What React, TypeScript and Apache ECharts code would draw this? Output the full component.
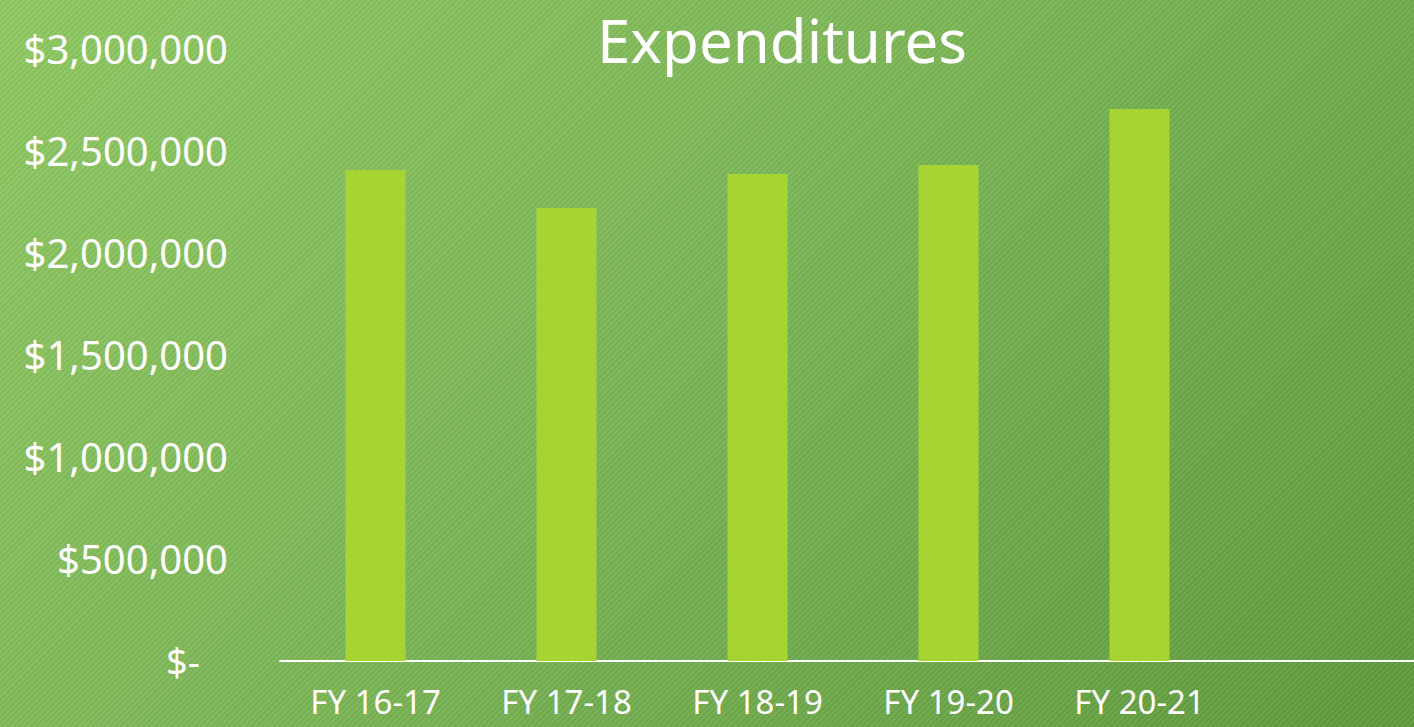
import React, { useEffect, useRef } from "react";
import * as echarts from "echarts";

const categories = ["FY 16-17", "FY 17-18", "FY 18-19", "FY 19-20", "FY 20-21"];
const expenditures = [2403000, 2217000, 2383000, 2427000, 2701000];
const yMin = 0;
const yMax = 3000000;
const yStep = 500000;
const titleText = "Expenditures";

const FONT = "'Noto Sans', 'Open Sans', sans-serif";

export default function App() {
  const ref = useRef<HTMLDivElement>(null);

  useEffect(() => {
    document.body.style.margin = "0";
    if (!ref.current) return;
    const chart = echarts.init(ref.current, null, { renderer: "svg" });
    chart.setOption({
      animation: false,
      backgroundColor: "transparent",
      textStyle: { fontFamily: FONT },
      grid: { left: 280, right: 179, top: 48, bottom: 66, containLabel: false },
      graphic: [
        {
          type: "text",
          x: 782,
          y: 40,
          style: {
            text: titleText,
            fill: "#ffffff",
            font: `60px ${FONT}`,
            lineHeight: 60,
            textAlign: "center",
            textVerticalAlign: "middle",
          },
        },
        {
          type: "line",
          shape: { x1: 1234, y1: 661, x2: 1414, y2: 661 },
          style: { stroke: "#ffffff", lineWidth: 2 },
        },
      ],
      xAxis: {
        type: "category",
        data: categories,
        axisLine: { show: true, lineStyle: { color: "#ffffff", width: 2 } },
        axisTick: { show: false },
        axisLabel: {
          color: "#ffffff",
          fontSize: 33,
          lineHeight: 32,
          margin: 24,
          fontFamily: FONT,
        },
        splitLine: { show: false },
      },
      yAxis: {
        type: "value",
        min: yMin,
        max: yMax,
        interval: yStep,
        axisLine: { show: false },
        axisTick: { show: false },
        splitLine: { show: false },
        axisLabel: {
          color: "#ffffff",
          fontSize: 40,
          margin: 52,
          fontFamily: FONT,
          formatter: (v: number) =>
            v === 0 ? "{z|$-}" : "$" + v.toLocaleString("en-US"),
          rich: {
            z: { color: "#ffffff", fontSize: 38, fontFamily: FONT, padding: [0, 28, 0, 0] },
          },
        },
      },
      series: [
        {
          type: "bar",
          data: expenditures,
          barWidth: 60,
          itemStyle: { color: "#a6d533" },
        },
      ],
    });
    return () => chart.dispose();
  }, []);

  return (
    <div
      style={{
        width: 1414,
        height: 727,
        background:
          "repeating-linear-gradient(135deg, rgba(255,255,255,0.05) 0px, rgba(255,255,255,0.05) 2px, rgba(0,0,0,0.03) 2px, rgba(0,0,0,0.03) 4px), linear-gradient(135deg, #8fc862 0%, #7cb657 45%, #5f9a3d 100%)",
      }}
    >
      <div ref={ref} style={{ width: 1414, height: 727 }} />
    </div>
  );
}
